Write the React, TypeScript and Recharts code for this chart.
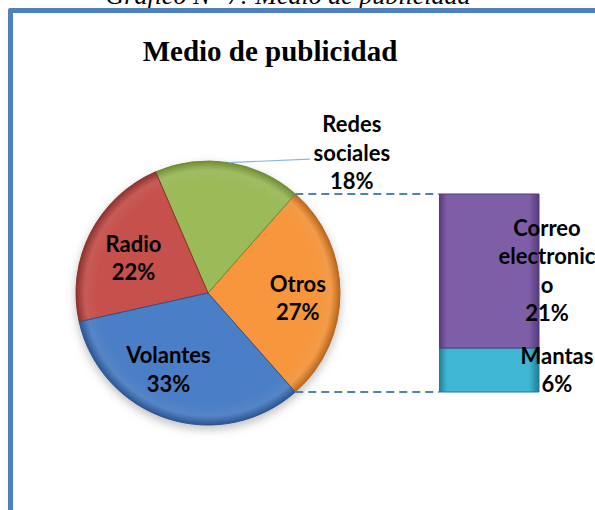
import { PieChart, Pie, Cell, BarChart, Bar, XAxis, YAxis } from 'recharts';

// pie (first slice "Otros" is broken out into the bar)
const pieNames = ['Otros', 'Redes sociales', 'Radio', 'Volantes'];
const pieValues = [27, 18, 22, 33];
const pieColors = ['#F7963C', '#9BBB59', '#C6504B', '#4A7EC6'];
const pieDark = ['#B8661C', '#6E8C32', '#8E302C', '#2C5590'];

// bar (breakdown of "Otros"), bottom to top
const barNames = ['Mantas', 'Correo electronico'];
const barValues = [6, 21];
const barColors = ['#3FB6D4', '#7F5EA8'];
const barDark = ['#1F7E98', '#553A7C'];

const W = 595;
const H = 510;
const CX = 208;
const CY = 293;
const R = 132;
const BAR_LEFT = 439;
const BAR_W = 100;
const RAD = Math.PI / 180;
const FONT = 'Lato, "Open Sans", sans-serif';
const LH = 28.5;
const CAP = 15.5;

const pieTotal = pieValues.reduce((a, b) => a + b, 0);
const halfOtros = (pieValues[0] / pieTotal) * 180;
const startAngle = -halfOtros;
const endAngle = 360 - halfOtros;
const barTop = CY - R * Math.sin(halfOtros * RAD);
const barBottom = CY + R * Math.sin(halfOtros * RAD);

const pieData = pieNames.map((name, i) => ({ name, value: pieValues[i] }));
const barRow: Record<string, any> = { name: pieNames[0] };
barNames.forEach((n, i) => { barRow[n] = barValues[i]; });
const barData = [barRow];

const lineBreaks: Record<string, string[]> = {
  'Redes sociales': ['Redes', 'sociales'],
  'Correo electronico': ['Correo', 'electronic', 'o'],
};
const pieNudge: Record<string, [number, number]> = {
  Otros: [4, 5],
  Radio: [2, 4],
  Volantes: [-13, -5],
};

const MultiText = ({ x, yc, lines }: { x: number; yc: number; lines: string[] }) => {
  const first = yc - ((lines.length - 1) * LH) / 2 + CAP / 2;
  return (
    <text textAnchor="middle" fontFamily={FONT} fontWeight={700} fontSize={22} fill="#000">
      {lines.map((l, i) => (
        <tspan key={i} x={x} y={first + i * LH}>{l}</tspan>
      ))}
    </text>
  );
};

const renderPieLabel = (p: any) => {
  const i = p.index;
  const name = pieNames[i];
  const cx = Number(p.cx);
  const cy = Number(p.cy);
  const r = Number(p.outerRadius);
  const mid = Number(p.midAngle);
  const pct = Math.round((pieValues[i] / pieTotal) * 100) + '%';
  const lines = [...(lineBreaks[name] || [name]), pct];

  if (name === 'Redes sociales') {
    // outside label with leader line
    const ax = cx + r * Math.cos(mid * RAD);
    const ay = cy - r * Math.sin(mid * RAD);
    const tx = cx + r * 1.09;
    const ty = cy - r * 1.06;
    return (
      <g>
        <line x1={ax} y1={ay} x2={tx - 42} y2={ty + 6} stroke="#8DB3E2" strokeWidth={1.2} />
        <MultiText x={tx} yc={ty} lines={lines} />
      </g>
    );
  }

  const lr = r * 0.65;
  const [dx, dy] = pieNudge[name] || [0, 0];
  const x = cx + lr * Math.cos(mid * RAD) + dx;
  const y = cy - lr * Math.sin(mid * RAD) + dy;

  let connectors = null;
  if (i === 0) {
    const a1 = (mid + halfOtros) * RAD;
    const a2 = (mid - halfOtros) * RAD;
    const x1 = cx + r * Math.cos(a1);
    const y1 = cy - r * Math.sin(a1);
    const x2 = cx + r * Math.cos(a2);
    const y2 = cy - r * Math.sin(a2);
    connectors = (
      <g stroke="#4F81BD" strokeWidth={1.8} strokeDasharray="8 5">
        <line x1={x1} y1={y1} x2={BAR_LEFT} y2={barTop} />
        <line x1={x2} y1={y2} x2={BAR_LEFT} y2={barBottom} />
      </g>
    );
  }
  return (
    <g>
      {connectors}
      <MultiText x={x} yc={y} lines={lines} />
    </g>
  );
};

const barLabel = (i: number) => (p: any) => {
  const x = Number(p.x);
  const y = Number(p.y);
  const w = Number(p.width);
  const h = Number(p.height);
  const name = barNames[i];
  const pct = Math.round((barValues[i] / pieTotal) * 100) + '%';
  const lines = [...(lineBreaks[name] || [name]), pct];
  const shift = i === 0 ? 18 : 8;
  return <MultiText x={x + w + shift} yc={y + h / 2} lines={lines} />;
};

export default function App() {
  return (
    <div style={{ position: 'absolute', left: 0, top: 0, width: W, height: H, overflow: 'hidden', background: '#fff' }}>
      <div
        style={{
          position: 'absolute', left: 0, top: -17, width: 576, textAlign: 'center',
          fontFamily: '"Liberation Serif", serif', fontStyle: 'italic', fontSize: 26, lineHeight: '26px', whiteSpace: 'nowrap',
        }}
      >
        Gráfico N° 7: Medio de publicidad
      </div>
      <div
        style={{
          position: 'absolute', left: 8, top: 8, width: 700, height: 700,
          border: '5px solid #4F81BD', borderRadius: 2, boxSizing: 'border-box',
        }}
      />
      <div
        style={{
          position: 'absolute', left: 0, top: 37, width: 540, textAlign: 'center',
          fontFamily: '"Liberation Serif", serif', fontWeight: 700, fontSize: 29, lineHeight: '29px', whiteSpace: 'nowrap',
        }}
      >
        Medio de publicidad
      </div>

      <div style={{ position: 'absolute', left: 0, top: 0 }}>
        <PieChart width={W} height={H} margin={{ top: 0, right: 0, bottom: 0, left: 0 }}>
          <defs>
            <filter id="pieShadow" x="-20%" y="-20%" width="140%" height="140%">
              <feGaussianBlur stdDeviation="4" />
            </filter>
            {pieColors.map((c, i) => (
              <radialGradient key={i} id={`pg${i}`} gradientUnits="userSpaceOnUse" cx={CX} cy={CY} r={R}>
                <stop offset="0%" stopColor={c} />
                <stop offset="84%" stopColor={c} />
                <stop offset="93%" stopColor={c} stopOpacity={0.9} />
                <stop offset="100%" stopColor={pieDark[i]} />
              </radialGradient>
            ))}
            {barColors.map((c, i) => (
              <linearGradient key={i} id={`bg${i}`} x1="0" y1="0" x2="1" y2="0">
                <stop offset="0%" stopColor={barDark[i]} />
                <stop offset="8%" stopColor={c} />
                <stop offset="90%" stopColor={c} />
                <stop offset="100%" stopColor={barDark[i]} />
              </linearGradient>
            ))}
          </defs>
          <Pie
            data={[{ name: 'shadow', value: 1 }]}
            dataKey="value"
            cx={CX}
            cy={CY + 4}
            outerRadius={R + 1}
            fill="#7f7f7f"
            fillOpacity={0.45}
            stroke="none"
            style={{ filter: 'url(#pieShadow)' }}
            isAnimationActive={false}
            legendType="none"
          />
          <Pie
            data={pieData}
            dataKey="value"
            nameKey="name"
            cx={CX}
            cy={CY}
            outerRadius={R}
            startAngle={startAngle}
            endAngle={endAngle}
            label={renderPieLabel}
            labelLine={false}
            isAnimationActive={false}
          >
            {pieData.map((d, i) => (
              <Cell key={d.name} fill={`url(#pg${i})`} stroke={pieDark[i]} strokeWidth={1} />
            ))}
          </Pie>
        </PieChart>
      </div>

      <div style={{ position: 'absolute', left: BAR_LEFT, top: 0 }}>
        <BarChart
          width={W - BAR_LEFT + 40}
          height={H}
          data={barData}
          barCategoryGap={0}
          margin={{ top: barTop, bottom: H - barBottom, left: 0, right: W - BAR_LEFT + 40 - BAR_W }}
        >
          <XAxis dataKey="name" hide />
          <YAxis hide domain={[0, barValues.reduce((a, b) => a + b, 0)]} />
          {barNames.map((n, i) => (
            <Bar
              key={n}
              dataKey={n}
              stackId="otros"
              fill={`url(#bg${i})`}
              stroke={barDark[i]}
              strokeWidth={1}
              label={barLabel(i)}
              isAnimationActive={false}
            />
          ))}
        </BarChart>
      </div>
    </div>
  );
}
